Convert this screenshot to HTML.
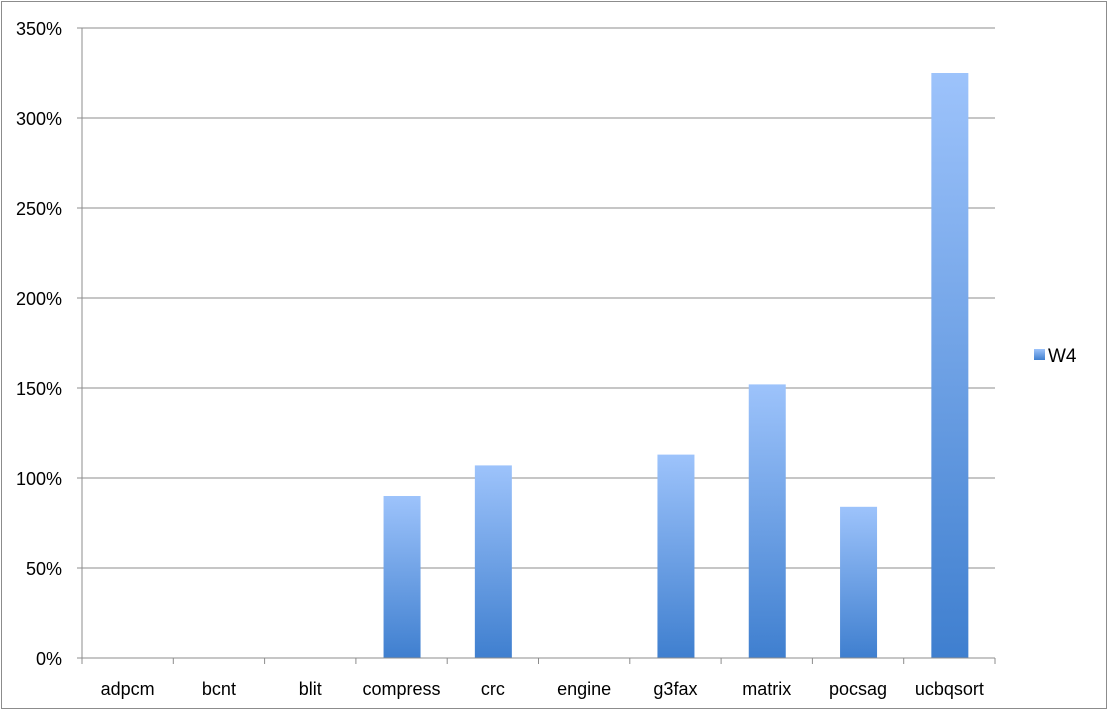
<!DOCTYPE html>
<html><head><meta charset="utf-8"><style>
html,body{margin:0;padding:0;background:#fff;}
svg{display:block;font-family:"Liberation Sans",sans-serif;}
</style></head><body>
<svg id="chart" width="1109" height="712" viewBox="0 0 1109 712">
<defs>
<linearGradient id="g" x1="0" y1="0" x2="0" y2="1">
<stop offset="0" stop-color="#9dc3fb"/><stop offset="1" stop-color="#3f7fcf"/>
</linearGradient>
</defs>
<rect x="1.5" y="1.5" width="1105" height="707" fill="#fff" stroke="#8c8c8c"/>
<g id="grid"></g><g id="bars"></g><g id="axes"></g>
<rect x="1034" y="349" width="11" height="11" fill="url(#g)"/>
<text x="1048" y="362" font-size="19" fill="#000">W4</text>
</svg>
<script>
const categories=["adpcm","bcnt","blit","compress","crc","engine","g3fax","matrix","pocsag","ucbqsort"];
const values=[0,0,0,90,107,0,113,152,84,325];
const ticks=[0,50,100,150,200,250,300,350];
const tickLabels=["0%","50%","100%","150%","200%","250%","300%","350%"];
const NS="http://www.w3.org/2000/svg";
const X0=82,X1=995,Y0=658,Y1=28,MAX=350;
const bw=(X1-X0)/categories.length;
function y(v){return Y0-(v/MAX)*(Y0-Y1);}
function mk(p,t,a){const e=document.createElementNS(NS,t);for(const k in a)e.setAttribute(k,a[k]);p.appendChild(e);return e;}
const grid=document.getElementById('grid'),bars=document.getElementById('bars'),axes=document.getElementById('axes');
ticks.forEach((t,i)=>{
  if(t>0){const l=mk(grid,'line',{x1:X0,x2:X1,y1:y(t),y2:y(t),stroke:'#8c8c8c','stroke-width':1});
  
  }
  const tk=mk(axes,'line',{x1:X0-5,x2:X0,y1:y(t),y2:y(t),stroke:'#8c8c8c'});
  
  
  const tx=mk(axes,'text',{x:X0-20,y:y(t)+7,'text-anchor':'end','font-size':18});
  tx.textContent=tickLabels[i];
  
  
});
categories.forEach((c,i)=>{
  const cx=X0+bw*(i+0.5);
  if(values[i]>0){
    const r=mk(bars,'rect',{x:cx-18,y:y(values[i]),width:37,height:Y0-y(values[i]),fill:'url(#g)'});
    
    
  }
  const tx=mk(axes,'text',{x:cx,y:Y0+37,'text-anchor':'middle','font-size':18});
  tx.textContent=c;
  
  
});
for(let i=0;i<=categories.length;i++){
  const xx=X0+bw*i;
  const tk=mk(axes,'line',{x1:xx,x2:xx,y1:Y0,y2:Y0+6,stroke:'#8c8c8c'});
  
  
}
const ya=mk(axes,'line',{x1:X0,x2:X0,y1:Y1,y2:Y0,stroke:'#8c8c8c'});


const xa=mk(axes,'line',{x1:X0,x2:X1,y1:Y0,y2:Y0,stroke:'#8c8c8c'});


</script>
</body></html>
